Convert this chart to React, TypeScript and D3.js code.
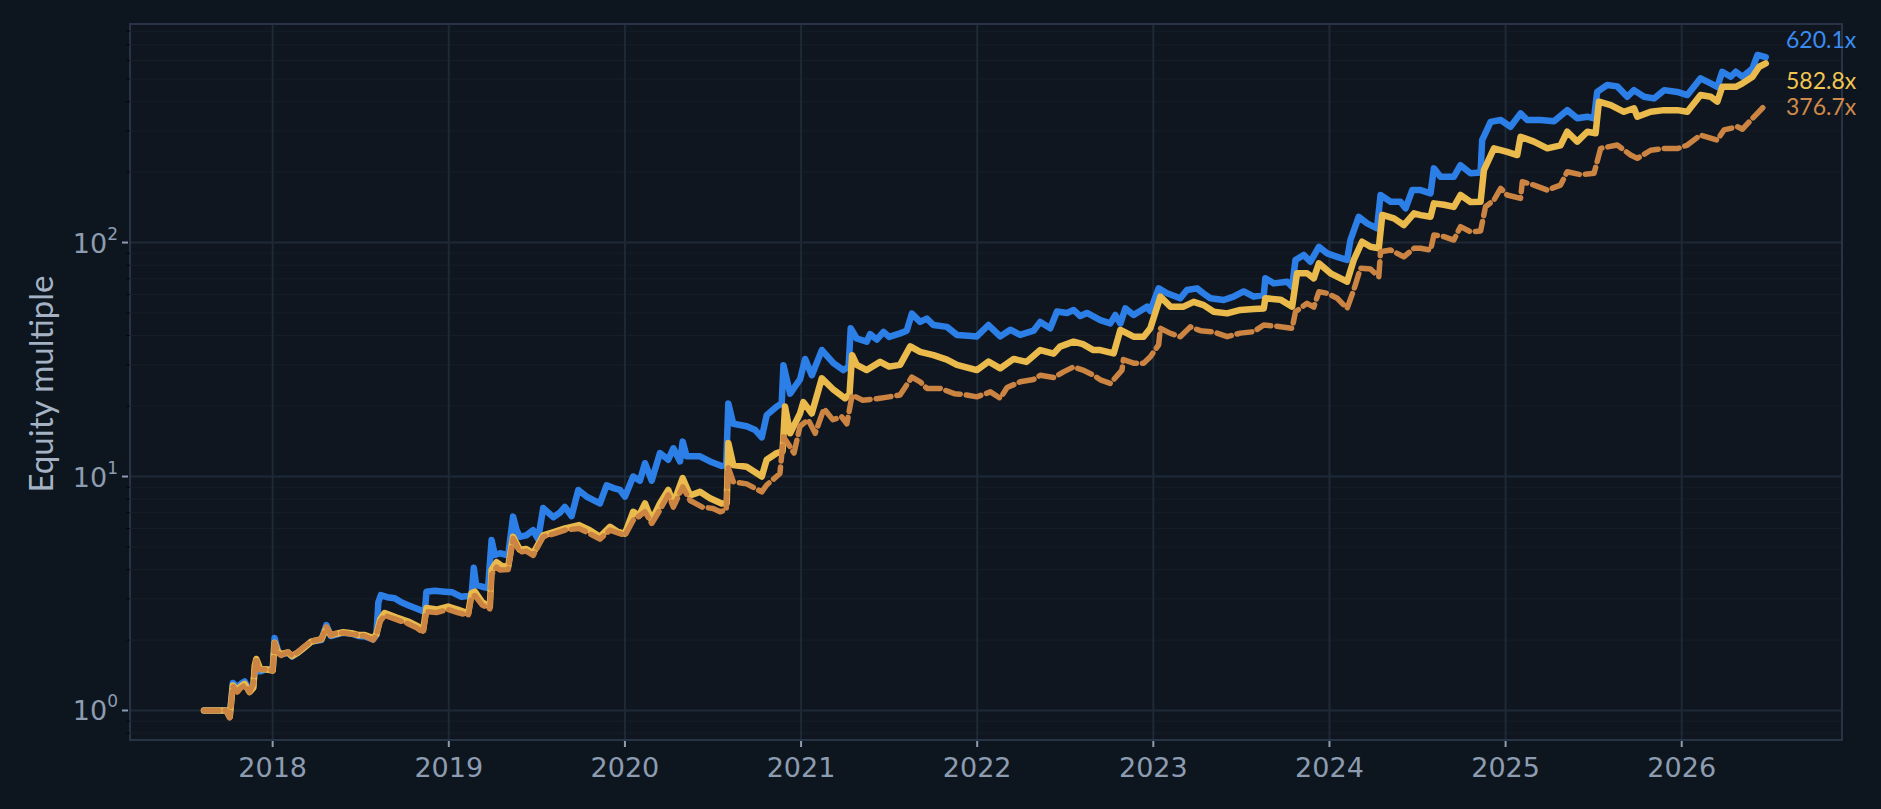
import React, { useEffect } from "react";
import * as d3 from "d3";

// equity curves, [decimal year, multiple]
const blueSeries: [number, number][] = [
  [2017.61, 1.0], [2017.737, 1.0], [2017.756, 0.94], [2017.774, 1.31], [2017.8, 1.26], [2017.82, 1.3],
  [2017.841, 1.33], [2017.869, 1.22], [2017.89, 1.26], [2017.898, 1.49], [2017.93, 1.47], [2017.96, 1.5],
  [2018.0, 1.49], [2018.011, 2.04], [2018.03, 1.8], [2018.049, 1.73], [2018.087, 1.77], [2018.11, 1.7],
  [2018.144, 1.77], [2018.18, 1.86], [2018.22, 1.97], [2018.277, 2.0], [2018.305, 2.32], [2018.33, 2.08],
  [2018.352, 2.1], [2018.4, 2.15], [2018.447, 2.13], [2018.49, 2.08], [2018.523, 2.07], [2018.57, 2.01],
  [2018.589, 2.1], [2018.6, 2.9], [2018.614, 3.11], [2018.65, 3.05], [2018.693, 3.02], [2018.73, 2.9],
  [2018.769, 2.82], [2018.82, 2.72], [2018.864, 2.64], [2018.873, 3.22], [2018.92, 3.25], [2018.977, 3.22],
  [2019.02, 3.2], [2019.072, 3.06], [2019.129, 3.1], [2019.142, 4.07], [2019.155, 3.45], [2019.19, 3.38],
  [2019.223, 3.34], [2019.243, 5.35], [2019.261, 4.62], [2019.29, 4.7], [2019.337, 4.6], [2019.365, 6.74],
  [2019.385, 5.9], [2019.403, 5.53], [2019.44, 5.6], [2019.479, 5.9], [2019.507, 5.4], [2019.536, 7.33],
  [2019.593, 6.7], [2019.63, 7.0], [2019.659, 7.42], [2019.697, 6.77], [2019.735, 8.76], [2019.782, 8.21],
  [2019.858, 7.67], [2019.896, 9.17], [2019.94, 8.9], [2019.972, 8.76], [2020.0, 8.2], [2020.047, 10.0],
  [2020.085, 9.6], [2020.114, 11.4], [2020.152, 9.6], [2020.199, 12.6], [2020.246, 11.8], [2020.275, 13.2],
  [2020.313, 11.6], [2020.328, 14.1], [2020.35, 12.2], [2020.426, 12.2], [2020.483, 11.6], [2020.549, 11.1],
  [2020.575, 11.2], [2020.587, 20.5], [2020.615, 16.8], [2020.691, 16.4], [2020.74, 15.8], [2020.777, 14.7],
  [2020.805, 18.3], [2020.862, 19.9], [2020.89, 20.5], [2020.9, 29.9], [2020.938, 22.6], [2020.97, 24.5],
  [2020.994, 26], [2021.023, 31.8], [2021.061, 27.1], [2021.118, 34.7], [2021.184, 30.5], [2021.24, 28.5],
  [2021.27, 29.5], [2021.282, 43.0], [2021.316, 38.9], [2021.373, 37.7], [2021.392, 40.6], [2021.43, 38.5],
  [2021.468, 41.5], [2021.5, 39.5], [2021.562, 40.9], [2021.6, 42], [2021.629, 49.7], [2021.676, 45.8],
  [2021.714, 47.3], [2021.752, 44.4], [2021.828, 43.6], [2021.885, 40.3], [2021.95, 40.0], [2021.998, 39.7],
  [2022.064, 44.4], [2022.131, 39.7], [2022.188, 42.4], [2022.244, 40.3], [2022.32, 42.0], [2022.358, 45.8],
  [2022.415, 43.0], [2022.453, 50.7], [2022.51, 50.0], [2022.547, 51.5], [2022.585, 48.5], [2022.623, 50.0],
  [2022.699, 46.6], [2022.756, 45.1], [2022.784, 49.0], [2022.813, 45.1], [2022.841, 52.3], [2022.888, 49.0],
  [2022.964, 53.2], [2022.983, 51], [2023.03, 63.7], [2023.078, 60.7], [2023.153, 57.8], [2023.191, 62.7],
  [2023.248, 63.7], [2023.286, 60.5], [2023.324, 57.8], [2023.4, 56.8], [2023.456, 58.7], [2023.513, 61.8],
  [2023.57, 58.7], [2023.627, 59.7], [2023.636, 70.3], [2023.684, 66.9], [2023.76, 68.0], [2023.788, 64.7],
  [2023.807, 84.2], [2023.854, 88.5], [2023.892, 82.8], [2023.94, 95.9], [2023.987, 89.9], [2024.044, 86.9],
  [2024.1, 84.2], [2024.119, 102.5], [2024.166, 128.8], [2024.214, 120.8], [2024.27, 115.0], [2024.29, 159.6],
  [2024.347, 149.4], [2024.403, 149.4], [2024.432, 140.0], [2024.47, 167.6], [2024.517, 167.6], [2024.574, 162.3],
  [2024.593, 207.5], [2024.63, 191], [2024.706, 191], [2024.744, 214], [2024.801, 197.6], [2024.858, 199],
  [2024.867, 274], [2024.915, 328], [2024.972, 334], [2025.028, 312.6], [2025.085, 356.6], [2025.123, 334],
  [2025.199, 334], [2025.275, 330], [2025.35, 368], [2025.407, 339.6], [2025.464, 345], [2025.502, 339.6],
  [2025.52, 440.6], [2025.577, 471], [2025.634, 465], [2025.691, 420], [2025.729, 448], [2025.786, 420],
  [2025.843, 413], [2025.9, 448], [2025.975, 440], [2026.032, 427], [2026.107, 503], [2026.164, 479],
  [2026.202, 463], [2026.23, 537], [2026.278, 511], [2026.307, 537], [2026.345, 511], [2026.402, 555],
  [2026.43, 633], [2026.477, 620.1],
];

const goldSeries: [number, number][] = [
  [2017.61, 1.0], [2017.737, 1.0], [2017.756, 0.94], [2017.774, 1.28], [2017.8, 1.22], [2017.82, 1.27],
  [2017.841, 1.3], [2017.869, 1.2], [2017.89, 1.25], [2017.898, 1.55], [2017.907, 1.66], [2017.93, 1.5],
  [2017.96, 1.5], [2018.0, 1.48], [2018.011, 1.95], [2018.03, 1.78], [2018.049, 1.74], [2018.087, 1.77],
  [2018.11, 1.71], [2018.144, 1.77], [2018.18, 1.86], [2018.22, 1.97], [2018.277, 2.02], [2018.305, 2.25],
  [2018.33, 2.1], [2018.352, 2.12], [2018.4, 2.16], [2018.447, 2.14], [2018.49, 2.1], [2018.523, 2.1],
  [2018.57, 2.04], [2018.589, 2.12], [2018.61, 2.45], [2018.636, 2.61], [2018.7, 2.5], [2018.769, 2.4],
  [2018.82, 2.3], [2018.854, 2.2], [2018.873, 2.74], [2018.93, 2.7], [2018.996, 2.78], [2019.05, 2.7],
  [2019.11, 2.6], [2019.129, 3.18], [2019.148, 3.22], [2019.19, 2.9], [2019.233, 2.78], [2019.243, 3.99],
  [2019.271, 4.3], [2019.3, 4.15], [2019.337, 4.11], [2019.365, 5.53], [2019.403, 4.86], [2019.44, 4.9],
  [2019.479, 4.7], [2019.536, 5.6], [2019.6, 5.8], [2019.66, 6.0], [2019.74, 6.2], [2019.8, 5.9],
  [2019.858, 5.53], [2019.915, 6.1], [2019.96, 5.8], [2020.0, 5.7], [2020.047, 7.07], [2020.08, 6.8],
  [2020.114, 7.67], [2020.152, 6.5], [2020.199, 7.67], [2020.246, 8.76], [2020.275, 7.67], [2020.328, 9.84],
  [2020.37, 8.3], [2020.426, 8.6], [2020.483, 8.08], [2020.549, 7.67], [2020.578, 7.7], [2020.587, 13.9],
  [2020.615, 11.2], [2020.691, 11.0], [2020.777, 10.0], [2020.805, 11.8], [2020.862, 12.6], [2020.895, 12.8],
  [2020.909, 19.9], [2020.938, 15.3], [2020.994, 18.6], [2021.013, 20.8], [2021.061, 18.6], [2021.118, 26.3],
  [2021.184, 23.5], [2021.25, 21.6], [2021.275, 22.5], [2021.29, 33.0], [2021.316, 30.0], [2021.373, 28.5],
  [2021.449, 30.9], [2021.5, 29.5], [2021.562, 30.0], [2021.62, 36.0], [2021.676, 34.1], [2021.752, 33.0],
  [2021.828, 31.6], [2021.885, 30.0], [2021.998, 28.5], [2022.064, 31.0], [2022.131, 29.0], [2022.207, 31.8],
  [2022.28, 30.9], [2022.358, 34.7], [2022.434, 33.5], [2022.47, 35.9], [2022.547, 37.7], [2022.6, 36.8],
  [2022.66, 34.7], [2022.699, 34.7], [2022.775, 33.6], [2022.813, 42.3], [2022.888, 39.6], [2022.945, 39.6],
  [2022.983, 43], [2023.04, 58.7], [2023.097, 53.2], [2023.172, 53.2], [2023.229, 55.8], [2023.286, 54],
  [2023.343, 50.6], [2023.419, 49.8], [2023.494, 51.5], [2023.57, 52], [2023.627, 52.3], [2023.636, 57.8],
  [2023.722, 57], [2023.788, 53.2], [2023.816, 73.9], [2023.873, 73.9], [2023.911, 70.3], [2023.94, 81.5],
  [2024.006, 73.9], [2024.1, 68.0], [2024.138, 84.2], [2024.185, 100.8], [2024.233, 95.9], [2024.28, 94.5],
  [2024.3, 131.2], [2024.366, 126.9], [2024.422, 118.8], [2024.48, 133.3], [2024.517, 131], [2024.574, 128.8],
  [2024.593, 147], [2024.65, 145], [2024.706, 142], [2024.744, 159.6], [2024.801, 149], [2024.858, 149.4],
  [2024.877, 204], [2024.934, 252.7], [2025.009, 244], [2025.066, 236.6], [2025.085, 283], [2025.161, 270],
  [2025.237, 252.7], [2025.312, 260], [2025.35, 297.5], [2025.407, 270], [2025.464, 297.5], [2025.511, 293],
  [2025.53, 400], [2025.597, 387], [2025.672, 362], [2025.729, 375], [2025.748, 345], [2025.824, 362],
  [2025.9, 368], [2025.975, 368], [2026.032, 362], [2026.107, 427], [2026.164, 420], [2026.202, 400],
  [2026.23, 463], [2026.307, 463], [2026.345, 479], [2026.402, 511], [2026.44, 564], [2026.477, 582.8],
];

const copperSeries: [number, number][] = [
  [2017.61, 1.0], [2017.737, 1.0], [2017.756, 0.93], [2017.774, 1.27], [2017.8, 1.2], [2017.82, 1.25],
  [2017.841, 1.28], [2017.869, 1.2], [2017.89, 1.3], [2017.907, 1.68], [2017.92, 1.5], [2017.96, 1.5],
  [2018.0, 1.48], [2018.011, 1.95], [2018.03, 1.76], [2018.049, 1.72], [2018.087, 1.78], [2018.11, 1.72],
  [2018.144, 1.78], [2018.18, 1.88], [2018.22, 1.98], [2018.277, 2.02], [2018.305, 2.28], [2018.33, 2.1],
  [2018.352, 2.13], [2018.4, 2.15], [2018.447, 2.12], [2018.49, 2.1], [2018.523, 2.08], [2018.57, 2.0],
  [2018.589, 2.1], [2018.61, 2.4], [2018.636, 2.55], [2018.7, 2.45], [2018.769, 2.35], [2018.82, 2.25],
  [2018.854, 2.15], [2018.873, 2.65], [2018.93, 2.62], [2018.996, 2.7], [2019.05, 2.62], [2019.11, 2.55],
  [2019.129, 3.05], [2019.148, 3.1], [2019.19, 2.82], [2019.233, 2.72], [2019.243, 3.8], [2019.271, 4.1],
  [2019.29, 3.99], [2019.337, 4.0], [2019.365, 5.44], [2019.403, 4.75], [2019.44, 4.8], [2019.479, 4.6],
  [2019.536, 5.53], [2019.6, 5.7], [2019.66, 5.9], [2019.74, 6.0], [2019.8, 5.7], [2019.858, 5.4],
  [2019.915, 5.9], [2020.0, 5.6], [2020.047, 6.5], [2020.114, 7.07], [2020.152, 6.3], [2020.199, 7.2],
  [2020.246, 8.35], [2020.275, 7.4], [2020.328, 9.03], [2020.37, 7.9], [2020.44, 7.4], [2020.5, 7.3],
  [2020.54, 7.07], [2020.575, 7.2], [2020.585, 11.0], [2020.615, 9.5], [2020.691, 9.3], [2020.777, 8.6],
  [2020.805, 9.2], [2020.88, 10.3], [2020.9, 14.8], [2020.96, 12.6], [2020.994, 16.4], [2021.04, 17.5],
  [2021.08, 15.3], [2021.13, 19.5], [2021.18, 17.5], [2021.23, 18.0], [2021.26, 16.8], [2021.29, 22.3],
  [2021.35, 21.2], [2021.43, 21.5], [2021.5, 21.9], [2021.562, 22.3], [2021.629, 26.6], [2021.676, 25.4],
  [2021.714, 23.8], [2021.79, 23.8], [2021.87, 22.6], [2021.94, 22.3], [2021.998, 21.9], [2022.075, 23.0],
  [2022.131, 21.6], [2022.17, 24.0], [2022.244, 25.4], [2022.32, 26.0], [2022.358, 27.1], [2022.434, 26.5],
  [2022.49, 28.0], [2022.547, 29.4], [2022.6, 28.5], [2022.66, 27.1], [2022.699, 25.9], [2022.756, 25.0],
  [2022.822, 28.5], [2022.83, 31.6], [2022.888, 30.5], [2022.945, 30.5], [2022.983, 32.5], [2023.03, 36.5],
  [2023.04, 43.0], [2023.097, 40.9], [2023.153, 39.6], [2023.21, 43.6], [2023.267, 42], [2023.343, 41.5],
  [2023.419, 39.6], [2023.494, 41], [2023.57, 41.6], [2023.627, 44.4], [2023.684, 44], [2023.788, 43],
  [2023.807, 50.6], [2023.873, 55], [2023.911, 53], [2023.94, 61.6], [2023.987, 60.7], [2024.044, 57.8],
  [2024.1, 52.3], [2024.138, 62.7], [2024.176, 77.6], [2024.233, 77], [2024.28, 71.4], [2024.29, 91.3],
  [2024.347, 92.9], [2024.422, 86.9], [2024.48, 94.5], [2024.517, 94.5], [2024.574, 92.9], [2024.593, 107.7],
  [2024.65, 106], [2024.706, 102.5], [2024.744, 116.9], [2024.801, 111.2], [2024.858, 112], [2024.886, 142.2],
  [2024.934, 152], [2024.972, 170.5], [2025.009, 159.6], [2025.085, 154.5], [2025.095, 182], [2025.161, 176],
  [2025.237, 167.6], [2025.312, 176], [2025.35, 200.8], [2025.426, 195], [2025.502, 197.6], [2025.54, 252.7],
  [2025.634, 261], [2025.71, 236.6], [2025.748, 229], [2025.824, 248], [2025.9, 252], [2025.975, 252],
  [2026.032, 261], [2026.107, 288], [2026.202, 274], [2026.24, 303], [2026.316, 312.6], [2026.345, 305],
  [2026.402, 339.6], [2026.46, 376.7],
];

const yearTicks = [2018, 2019, 2020, 2021, 2022, 2023, 2024, 2025, 2026];
const decadeTicks = [1, 10, 100];
const minorSteps = [2, 3, 4, 5, 6, 7, 8, 9];

const W = 1881;
const H = 809;
const margin = { top: 24, right: 39, bottom: 69, left: 130 };

const seriesStyles = [
  { data: blueSeries, color: "#2d7fe8", label: "#3a8cf2", width: 6.5, dash: null, dy: -18 },
  { data: goldSeries, color: "#eabb4c", label: "#f0c550", width: 6.5, dash: null, dy: 17 },
  { data: copperSeries, color: "#cc8443", label: "#d08a4b", width: 5.5, dash: "15 6", dy: -2 },
];

export default function App() {
  useEffect(() => {
    document.body.style.margin = "0";
    document.body.style.background = "#0d161f";
  }, []);

  const x = d3
    .scaleLinear()
    .domain([2017.19, 2026.91])
    .range([margin.left, W - margin.right]);
  const y = d3
    .scaleLog()
    .domain([0.748, 859])
    .range([H - margin.bottom, margin.top]);

  const line = d3
    .line<[number, number]>()
    .x((d) => x(d[0]))
    .y((d) => y(d[1]));

  const [y0, y1] = y.domain();
  const minorVals: number[] = [];
  [0.1, 1, 10, 100].forEach((dec) =>
    minorSteps.forEach((m) => {
      const v = dec * m;
      if (v > y0 && v < y1) minorVals.push(v);
    })
  );

  const left = margin.left;
  const right = W - margin.right;
  const top = margin.top;
  const bottom = H - margin.bottom;
  const tickColor = "#8d9cb0";

  return (
    <svg
      width={W}
      height={H}
      style={{ position: "absolute", left: 0, top: 0, display: "block", background: "#0d161f" }}
    >
      <rect x={left} y={top} width={right - left} height={bottom - top} fill="#10161f" />

      {/* minor log grid */}
      {minorVals.map((v) => (
        <line key={"mg" + v} x1={left} x2={right} y1={y(v)} y2={y(v)} stroke="#161f2a" strokeWidth={1} />
      ))}
      {decadeTicks.map((v) => (
        <line key={"dg" + v} x1={left} x2={right} y1={y(v)} y2={y(v)} stroke="#1e2937" strokeWidth={2} />
      ))}
      {yearTicks.map((t) => (
        <line key={"yg" + t} x1={x(t)} x2={x(t)} y1={top} y2={bottom} stroke="#1e2937" strokeWidth={2} />
      ))}

      {seriesStyles.map((s, i) => (
        <path
          key={"s" + i}
          d={line(s.data) || ""}
          fill="none"
          stroke={s.color}
          strokeWidth={s.width}
          strokeLinejoin="round"
          strokeLinecap="round"
          strokeDasharray={s.dash || undefined}
        />
      ))}

      <rect x={left} y={top} width={right - left} height={bottom - top} fill="none" stroke="#283445" strokeWidth={2} />

      {/* y axis */}
      {minorVals.map((v) => (
        <line key={"mt" + v} x1={left - 4} x2={left} y1={y(v)} y2={y(v)} stroke="#05090d" strokeWidth={1} />
      ))}
      {decadeTicks.map((v) => (
        <g key={"yt" + v}>
          <line x1={left - 8} x2={left - 2} y1={y(v)} y2={y(v)} stroke={tickColor} strokeWidth={2} />
          <text
            x={left - 12}
            y={y(v) + 10}
            textAnchor="end"
            fill={tickColor}
            fontFamily="'DejaVu Sans', sans-serif"
            fontSize={27}
          >
            10
            <tspan fontSize={17} dy={-13}>
              {Math.round(Math.log10(v))}
            </tspan>
          </text>
        </g>
      ))}
      <text
        transform="translate(40, 384) rotate(-90)"
        textAnchor="middle"
        dominantBaseline="central"
        fill="#a4b2c4"
        fontFamily="Lato, 'Noto Sans', sans-serif"
        fontSize={33}
      >
        Equity multiple
      </text>

      {/* x axis */}
      {yearTicks.map((t) => (
        <g key={"xt" + t}>
          <line x1={x(t)} x2={x(t)} y1={bottom + 1} y2={bottom + 7} stroke={tickColor} strokeWidth={2} />
          <text
            x={x(t)}
            y={bottom + 37}
            textAnchor="middle"
            fill={tickColor}
            fontFamily="'DejaVu Sans', sans-serif"
            fontSize={27}
          >
            {t}
          </text>
        </g>
      ))}

      {/* end labels */}
      {seriesStyles.map((s, i) => {
        const last = s.data[s.data.length - 1];
        return (
          <text
            key={"lbl" + i}
            x={1786}
            y={y(last[1]) + s.dy}
            dominantBaseline="central"
            fill={s.label}
            fontFamily="Lato, 'Noto Sans', sans-serif"
            fontSize={23}
          >
            {last[1].toFixed(1)}x
          </text>
        );
      })}
    </svg>
  );
}
